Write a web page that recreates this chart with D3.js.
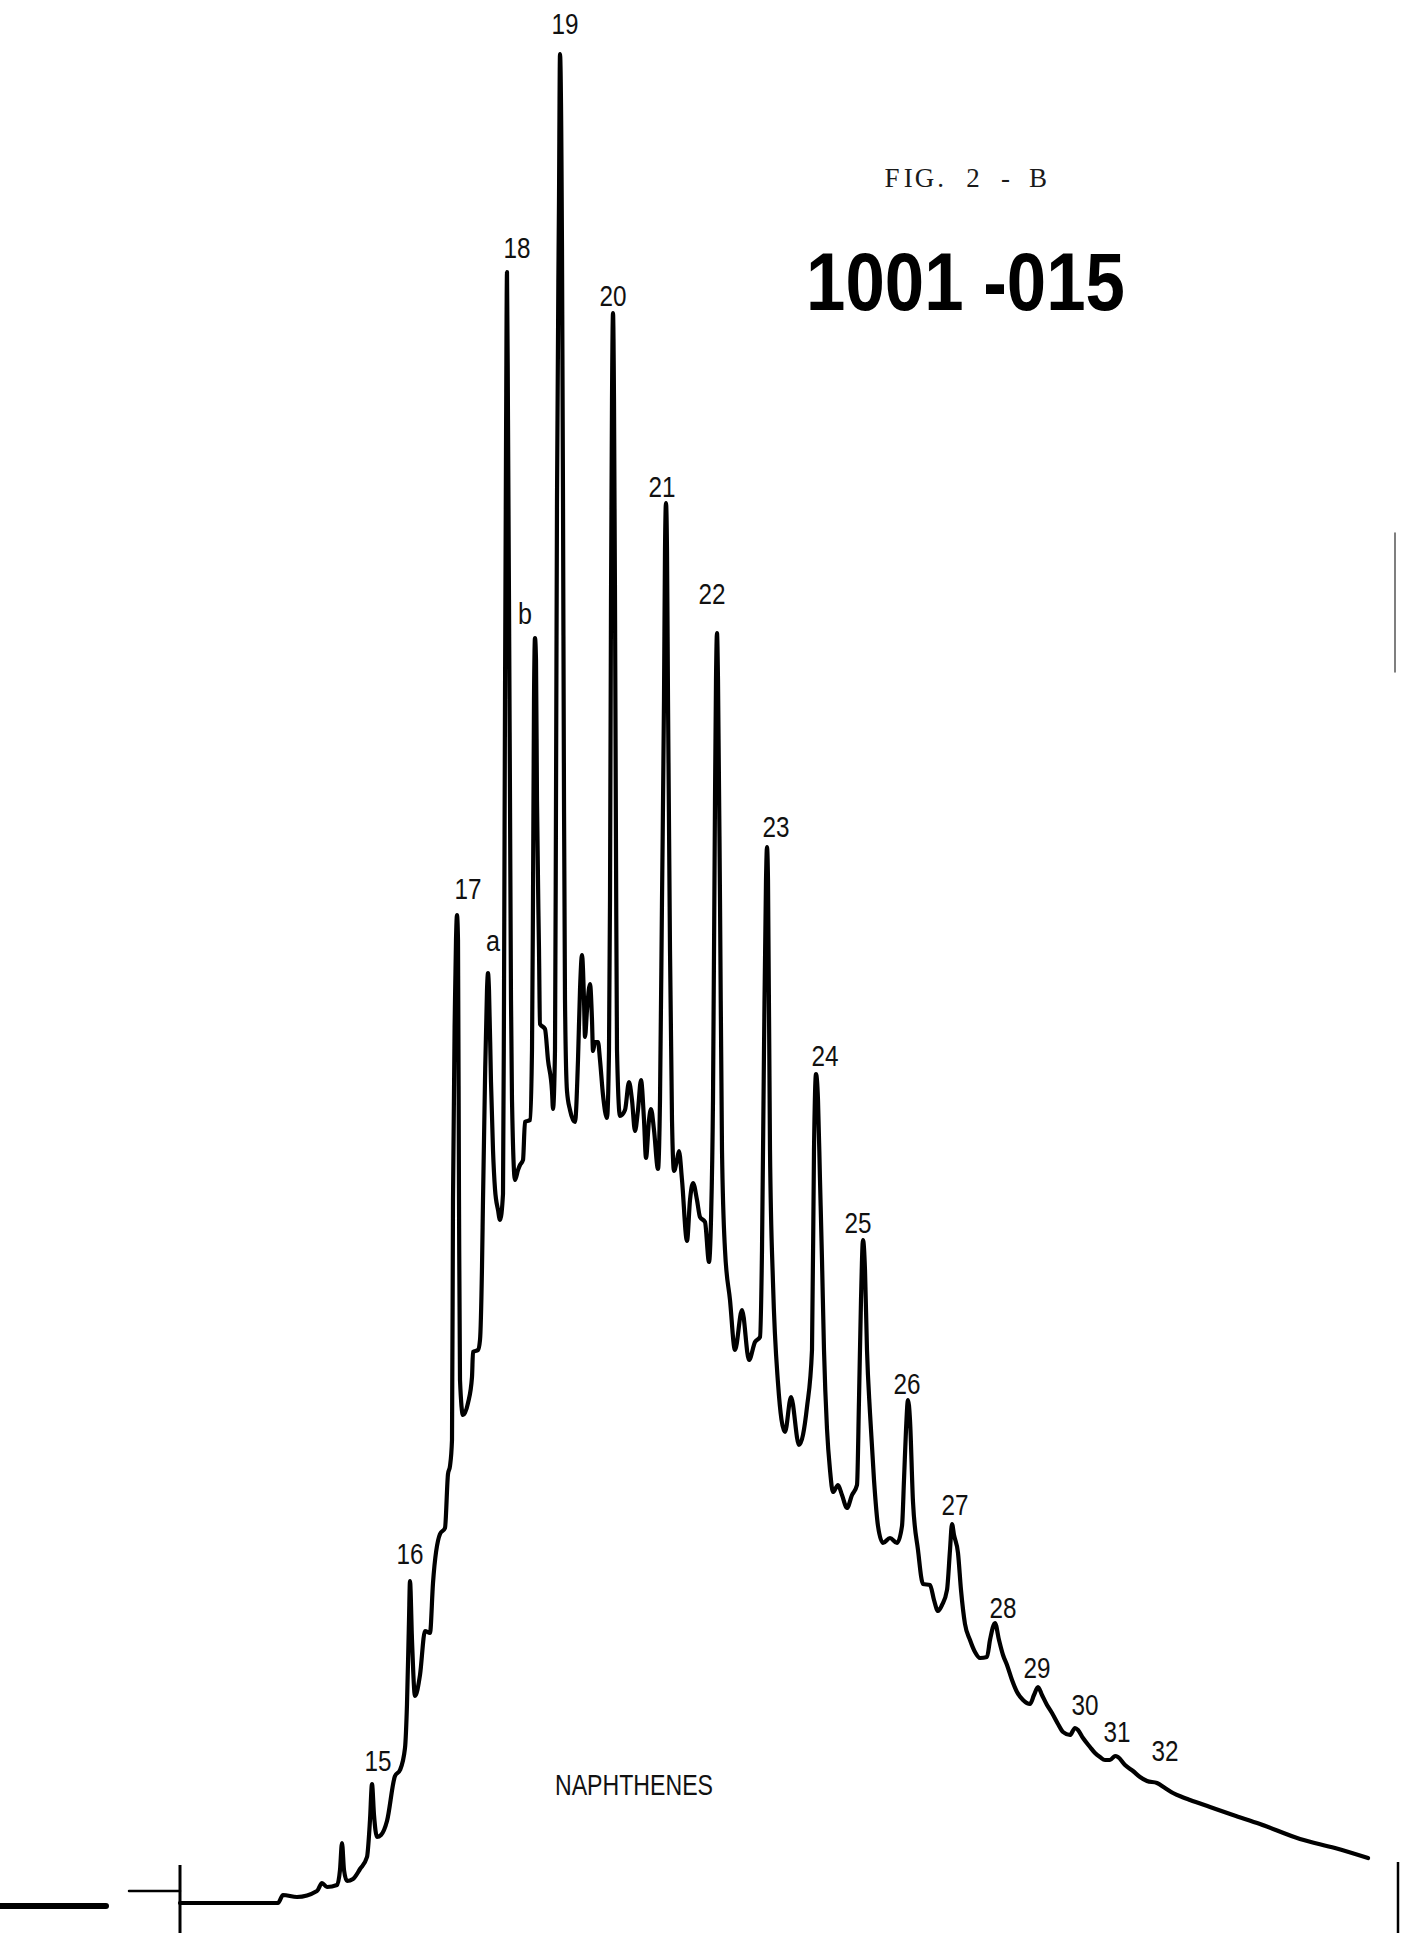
<!DOCTYPE html>
<html><head><meta charset="utf-8">
<script src="https://cdn.jsdelivr.net/npm/d3@7"></script>
<style>
html,body{margin:0;padding:0;background:#fff;}
svg{display:block;}
</style></head>
<body>
<script>
// ---- data ----
const scanTime = [180,278,283,297,317,322,327,337,340,342,344,347,353,360,367,370,372,374,377,381,387,395,400,405,407,409,410,412,415,420,425,430,433,440,445,448,450,452,453,455,456,457,458,459,460,463,468,472,473,478,480,482,483,485,487,488,489,491,493,495,498,500,503,504,505,506,507,508,509,510,511,512,515,518,520,523,525,530,532,533,534,535,536,537,539,540,545,548,552,553,555,556,557,559,560,562,563,564,565,567,570,575,578,580,582,584,585,587,590,592,593,595,598,600,603,607,609,610,611,612,613,614,615,616,617,620,625,629,632,635,638,641,644,646,649,651,654,658,660,662,664,665,666,667,668,670,672,674,677,679,682,687,690,693,697,700,705,709,711,713,715,716,717,718,720,722,725,730,735,742,749,755,760,762,764,766,767,768,770,773,778,785,791,799,807,812,814,816,818,820,822,824,827,830,833,838,842,847,852,857,859,861,863,865,867,870,874,878,883,890,897,902,904,906,908,910,913,918,923,930,934,938,942,947,950,952,954,958,961,965,970,975,980,987,990,995,999,1003,1007,1012,1017,1023,1030,1034,1038,1042,1047,1052,1058,1063,1070,1075,1078,1083,1090,1095,1100,1105,1110,1115,1118,1125,1133,1140,1147,1157,1165,1173,1182,1190,1210,1233,1260,1300,1335,1368];
const response = [0,0,8,6,12,20,16,18,33,60,33,22,24,34,46,83,119,88,66,68,82,127,133,155,199,283,322,263,207,228,272,270,320,369,375,429,437,463,703,903,963,988,963,703,523,488,500,526,551,553,563,636,703,823,913,930,913,821,753,714,693,683,709,903,1203,1453,1631,1483,1303,1103,903,803,723,733,738,743,781,783,853,1003,1203,1265,1243,1103,953,879,874,843,812,794,853,1103,1403,1703,1849,1653,1403,1103,903,812,793,781,843,913,948,903,866,893,919,883,852,861,861,843,808,785,853,1003,1303,1503,1590,1503,1303,1053,853,787,793,821,803,772,793,823,783,745,783,794,773,734,803,1003,1203,1353,1400,1353,1203,953,783,732,743,752,723,662,703,720,703,686,681,641,683,803,1103,1223,1270,1223,1003,753,653,603,553,593,543,561,566,653,853,1023,1056,1023,753,620,520,471,506,458,496,553,753,829,803,723,643,553,474,433,411,418,408,395,408,418,503,603,663,633,553,490,423,377,360,365,360,377,423,473,503,483,401,353,319,318,303,292,298,313,353,379,368,350,313,279,263,251,245,246,263,280,263,248,238,223,211,203,199,208,216,208,198,190,179,171,168,175,173,165,156,150,146,143,143,147,146,138,132,126,122,120,115,110,106,103,96,88,79,64,55,45];

const peakNames  = ["15","16","17","a","18","b","19","20","21","22","23","24","25","26","27","28","29","30","31","32"];
const labelTime  = [378,410,468,493,517,525,565,613,662,712,776,825,858,907,955,1003,1037,1085,1117,1165];
const labelLevel = [143,350,1015,959,1656,1290,1880,1608,1417,1310,1077,848,681,520,399,296,236,199,172,153];

const figTitle = "FIG. 2 - B";
const sampleId = "1001 -015";
const fractionName = "NAPHTHENES";

// ---- drawing ----
const W = 1404, H = 1933;
const x = d3.scaleLinear().domain([0, 1404]).range([0, 1404]);
const y = d3.scaleLinear().domain([0, 1903]).range([1903, 0]);

const svg = d3.select("body").append("svg").attr("width", W).attr("height", H);
svg.append("rect").attr("width", W).attr("height", H).attr("fill", "#fff");

const pts = scanTime.map((t, i) => [t, response[i]]);
const line = d3.line().x(d => x(d[0])).y(d => y(d[1])).curve(d3.curveMonotoneX);

// baseline marks (injection marker and pre-run pen trace)
const g = svg.append("g").attr("stroke", "#000").attr("fill", "none").attr("stroke-linecap", "round");
g.append("line").attr("x1", x(0)).attr("x2", x(106)).attr("y1", y(-3)).attr("y2", y(-3)).attr("stroke-width", 6);
g.append("line").attr("x1", x(129)).attr("x2", x(180)).attr("y1", y(12)).attr("y2", y(12)).attr("stroke-width", 2.5);
g.append("line").attr("x1", x(180)).attr("x2", x(180)).attr("y1", y(38)).attr("y2", y(-30)).attr("stroke-width", 3).attr("stroke-linecap", "butt");
g.append("line").attr("x1", x(1398)).attr("x2", x(1398)).attr("y1", y(41)).attr("y2", y(-30)).attr("stroke-width", 2.5).attr("stroke-linecap", "butt");
g.append("line").attr("x1", x(1395)).attr("x2", x(1395)).attr("y1", y(1370)).attr("y2", y(1231)).attr("stroke-width", 1.5).attr("stroke", "#555");

// the trace
svg.append("path").datum(pts)
  .attr("d", line)
  .attr("fill", "none")
  .attr("stroke", "#000")
  .attr("stroke-width", 4.2)
  .attr("stroke-linejoin", "round")
  .attr("stroke-linecap", "round");

// peak labels
const lblFont = "'Liberation Sans', Arial, sans-serif";
svg.append("g").selectAll("text").data(peakNames).join("text")
  .attr("x", (d, i) => x(labelTime[i]))
  .attr("y", (d, i) => y(labelLevel[i]) + (d === "a" ? 7 : 10.5))
  .attr("text-anchor", "middle")
  .attr("font-family", lblFont)
  .attr("font-size", 29)
  .attr("fill", "#111")
  .attr("textLength", d => d.length === 2 ? 27 : 14)
  .attr("lengthAdjust", "spacingAndGlyphs")
  .text(d => d);

// typewritten figure title, set on a fixed character pitch
const pitch = 16.2;
svg.append("text").attr("y", 187)
  .attr("font-family", "'Liberation Serif', 'Times New Roman', serif")
  .attr("font-size", 27).attr("fill", "#1a1a1a")
  .attr("text-anchor", "middle")
  .selectAll("tspan").data(Array.from(figTitle)).join("tspan")
  .attr("x", (c, i) => 884 + pitch / 2 + i * pitch)
  .text(c => c);

svg.append("text").attr("x", 806).attr("y", 310)
  .attr("font-family", "'Liberation Sans', Arial, sans-serif")
  .attr("font-weight", "bold")
  .attr("font-size", 81).attr("fill", "#000")
  .attr("textLength", 319).attr("lengthAdjust", "spacingAndGlyphs")
  .text(sampleId);

svg.append("text").attr("x", 555).attr("y", 1795)
  .attr("font-family", lblFont)
  .attr("font-size", 30).attr("fill", "#111")
  .attr("textLength", 158).attr("lengthAdjust", "spacingAndGlyphs")
  .text(fractionName);
</script>
</body></html>
